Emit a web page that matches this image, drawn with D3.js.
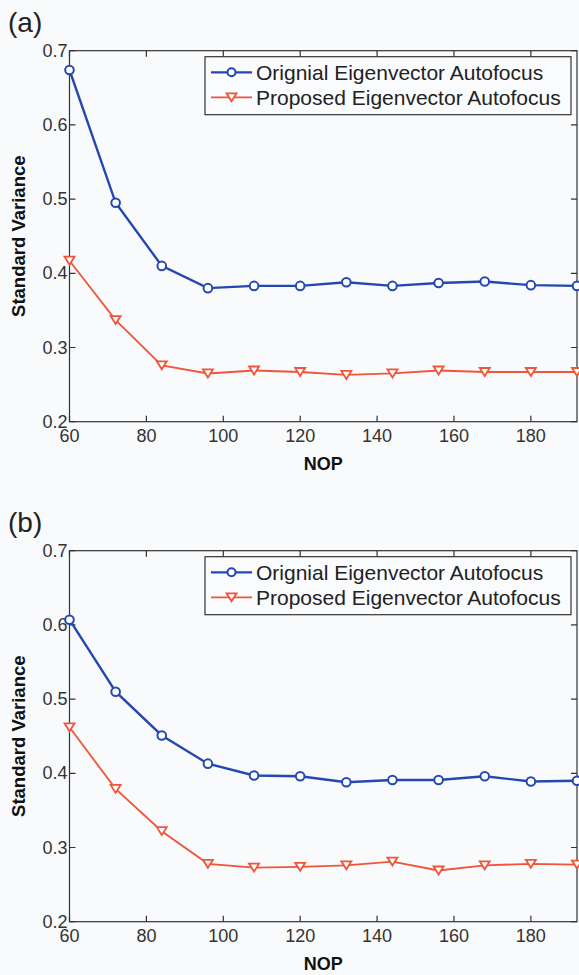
<!DOCTYPE html>
<html>
<head>
<meta charset="utf-8">
<script src="https://cdn.jsdelivr.net/npm/d3@7"></script>
<style>
  body { margin: 0; background: #f9fafc; }
  svg { display: block; }
  text { font-family: "Liberation Sans", Arial, sans-serif; }
</style>
</head>
<body>
<div id="vis"></div>
<script>
// NOP values shared by both panels
const nop = [60, 72, 84, 96, 108, 120, 132, 144, 156, 168, 180, 192]
const xTicks = [60, 80, 100, 120, 140, 160, 180]
const yTicks = [0.2, 0.3, 0.4, 0.5, 0.6, 0.7]
const seriesNames = ['Orignial Eigenvector Autofocus', 'Proposed Eigenvector Autofocus']

// panel (a)
const origA = [0.674, 0.495, 0.410, 0.380, 0.383, 0.383, 0.388, 0.383, 0.387, 0.389, 0.384, 0.383]
const propA = [0.417, 0.337, 0.276, 0.265, 0.269, 0.267, 0.263, 0.265, 0.269, 0.267, 0.267, 0.267]
// panel (b)
const origB = [0.607, 0.510, 0.451, 0.413, 0.397, 0.396, 0.388, 0.391, 0.391, 0.396, 0.389, 0.390]
const propB = [0.462, 0.379, 0.322, 0.278, 0.273, 0.274, 0.276, 0.281, 0.269, 0.276, 0.278, 0.277]

const W = 579, H = 975
const blue = '#2448b0', red = '#f0553a', axisCol = '#333'

const svg = d3.select('#vis').append('svg')
  .attr('width', W).attr('height', H)

svg.append('rect').attr('width', W).attr('height', H).attr('fill', '#f9fafc')

function drawPanel(top, label, orig, prop) {
  const left = 69.5, right = 577, bottom = top + 371
  const x = d3.scaleLinear([60, 192], [left, right])
  const y = d3.scaleLinear([0.2, 0.7], [bottom, top])
  const g = svg.append('g')

  // panel letter
  g.append('text')
    .attr('x', 8).attr('y', top - 19)
    .attr('font-size', 28).attr('fill', '#222')
    .text(label)

  // box
  g.append('rect')
    .attr('x', left).attr('y', top)
    .attr('width', right - left).attr('height', bottom - top)
    .attr('fill', 'none').attr('stroke', axisCol).attr('stroke-width', 1.2)

  // x ticks (bottom + top, inward)
  g.selectAll('.xt').data(xTicks).enter().append('path')
    .attr('d', d => `M${x(d)},${bottom}v-6M${x(d)},${top}v6`)
    .attr('stroke', axisCol).attr('stroke-width', 1.2)
  g.selectAll('.xl').data(xTicks).enter().append('text')
    .attr('x', d => x(d)).attr('y', bottom + 20)
    .attr('text-anchor', 'middle').attr('font-size', 18).attr('fill', '#333')
    .text(d => d)

  // y ticks (left + right, inward)
  g.selectAll('.yt').data(yTicks).enter().append('path')
    .attr('d', d => `M${left},${y(d)}h6M${right},${y(d)}h-6`)
    .attr('stroke', axisCol).attr('stroke-width', 1.2)
  g.selectAll('.yl').data(yTicks).enter().append('text')
    .attr('x', left - 2).attr('y', d => y(d) + 6)
    .attr('text-anchor', 'end').attr('font-size', 18).attr('fill', '#333')
    .text(d => d3.format('.1f')(d))

  // axis titles
  g.append('text')
    .attr('x', (left + right) / 2).attr('y', bottom + 48)
    .attr('text-anchor', 'middle').attr('font-size', 18).attr('font-weight', 'bold')
    .attr('fill', '#111').text('NOP')
  g.append('text')
    .attr('transform', `translate(25,${(top + bottom) / 2}) rotate(-90)`)
    .attr('text-anchor', 'middle').attr('font-size', 18.5).attr('font-weight', 'bold')
    .attr('fill', '#111').text('Standard Variance')

  const line = d3.line().x((d, i) => x(nop[i])).y(d => y(d))

  g.append('path').datum(prop).attr('d', line)
    .attr('fill', 'none').attr('stroke', red).attr('stroke-width', 1.8)
  g.append('path').datum(orig).attr('d', line)
    .attr('fill', 'none').attr('stroke', blue).attr('stroke-width', 2.4)

  const tri = 'M-5,-4L5,-4L0,4Z'
  g.selectAll('.pm').data(prop).enter().append('path')
    .attr('transform', (d, i) => `translate(${x(nop[i])},${y(d)})`)
    .attr('d', tri).attr('fill', '#fff').attr('stroke', red).attr('stroke-width', 1.8)
  g.selectAll('.om').data(orig).enter().append('circle')
    .attr('cx', (d, i) => x(nop[i])).attr('cy', d => y(d)).attr('r', 4.3)
    .attr('fill', '#fff').attr('stroke', blue).attr('stroke-width', 2)

  // legend
  const lg = g.append('g').attr('transform', `translate(205,${top + 6})`)
  lg.append('rect').attr('width', 366).attr('height', 58)
    .attr('fill', '#fafbfd').attr('stroke', axisCol).attr('stroke-width', 1.2)
  const cols = [blue, red]
  seriesNames.forEach((name, i) => {
    const ly = 15.6 + i * 25
    lg.append('line').attr('x1', 6).attr('x2', 47).attr('y1', ly).attr('y2', ly)
      .attr('stroke', cols[i]).attr('stroke-width', i ? 1.8 : 2.2)
    if (i == 0) {
      lg.append('circle').attr('cx', 26.5).attr('cy', ly).attr('r', 4)
        .attr('fill', '#fff').attr('stroke', blue).attr('stroke-width', 2)
    } else {
      lg.append('path').attr('transform', `translate(26.5,${ly})`).attr('d', tri)
        .attr('fill', '#fff').attr('stroke', red).attr('stroke-width', 1.8)
    }
    lg.append('text').attr('x', 51).attr('y', ly + 7.7)
      .attr('font-size', 21).attr('fill', '#222').text(name)
  })
}

drawPanel(50.7, '(a)', origA, propA)
drawPanel(550.7, '(b)', origB, propB)
</script>
</body>
</html>
